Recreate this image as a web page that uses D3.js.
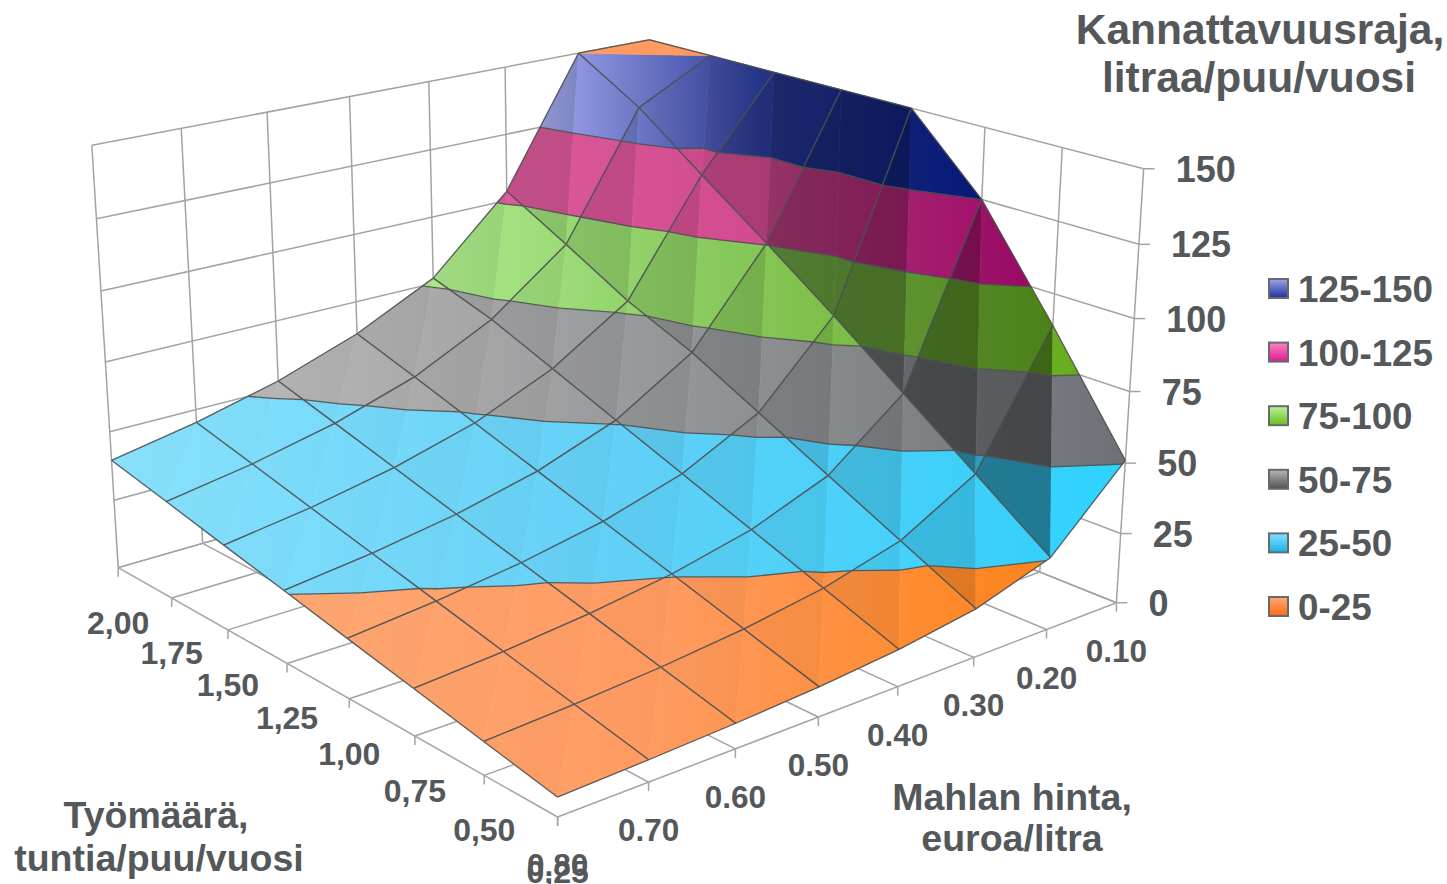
<!DOCTYPE html>
<html>
<head>
<meta charset="utf-8">
<script src="https://cdn.jsdelivr.net/npm/d3@7"></script>
<style>
  html, body { margin: 0; background: #fff; }
  svg { display: block; }
  text { font-family: "Liberation Sans", Arial, sans-serif; font-weight: bold; fill: #54585a; }
</style>
</head>
<body>
<div id="chart"></div>
<script>
const priceLabels = ["0.80", "0.70", "0.60", "0.50", "0.40", "0.30", "0.20", "0.10"];
const workLabels = ["0,25", "0,50", "0,75", "1,00", "1,25", "1,50", "1,75", "2,00"];
const zTicks = [0, 25, 50, 75, 100, 125, 150];

// break-even litres, one list per work amount, price running 0.80 -> 0.10
const work025 = [6.4, 7.3, 8.5, 10.2, 12.8, 17, 25.5, 51];
const work050 = [11.1, 12.7, 14.8, 17.8, 22.3, 29.7, 44.5, 89];
const work075 = [15.9, 18.1, 21.2, 25.4, 31.8, 42.3, 63.5, 125];
const work100 = [20.6, 23.6, 27.5, 33, 41.3, 55, 82.5, 150];
const work125 = [25.4, 29, 33.8, 40.6, 50.8, 67.7, 100.5, 150];
const work150 = [30.1, 34.4, 40.2, 48.2, 60.3, 78, 118, 150];
const work175 = [34.9, 39.9, 46.5, 55.8, 69.8, 91, 136, 150];
const work200 = [39.6, 45.3, 52.8, 63, 77, 103.5, 150, 150];
const surface = [work025, work050, work075, work100, work125, work150, work175, work200];

const bandLabels = ["0-25", "25-50", "50-75", "75-100", "100-125", "125-150"];
const bandLimits = [0, 25, 50, 75, 100, 125, 150];
const bandLeft = ["#ffa873", "#8ae2fd", "#b8b8b8", "#ace98c", "#dc5c9a", "#a4aaee"];
const bandMid = ["#ff9a60", "#62d0f6", "#949597", "#86c858", "#d44a92", "#2a3a96"];
const bandRight = ["#ff8418", "#2ed2ff", "#6e7276", "#66ad1c", "#d00c88", "#08209a"];
const swatchTop = ["#ffa878", "#80e2ff", "#b6b6b6", "#baf29c", "#ff82c8", "#9ea5e8"];
const swatchBottom = ["#ff6a10", "#1eaee6", "#505254", "#6cbc1e", "#de1a8c", "#20309c"];

// facet darkening per price strip, the steep last strip per work row
const leftShade = [0.99, 0.99, 0.98, 0.97, 0.94, 0.88];
const rightShade = [1, 1, 1, 1, 1, 0.99];
const lastLeftShade = [0.58, 0.56, 0.58, 0.62, 0.8, 0.95, 1];
const lastRightShade = [1, 0.74, 0.78, 0.62, 0.7, 0.9, 1];

const width = 1447;
const height = 884;

let svg = d3
  .select("#chart")
  .append("svg")
  .attr("width", width)
  .attr("height", height);
let defs = svg.append("defs");

let xA = d3.scalePoint().domain(d3.range(8)).range([0, 1]);
let xB = d3.scalePoint().domain(d3.range(8)).range([0, 1]);
let xZ = d3.scaleLinear().domain([0, 150]).range([0, 1]);

// box corners and ticks as they sit on the page, used to fit the camera
const cameraAnchors = [
  [0, 0, 0, 557, 817], [1, 0, 0, 1116, 603], [0, 1, 0, 118, 568],
  [1, 0, 1, 1143.6, 169], [0, 1, 1, 92, 145], [1, 1, 1, 648, 40],
  [3 / 7, 0, 0, 818, 717], [0, 3 / 7, 0, 350, 699], [6 / 7, 0, 0, 1046, 629], [0, 6 / 7, 0, 172, 598],
  [1, 0, 0.5, 1130, 392], [0, 1, 0.5, 105, 362], [1, 0, 1 / 6, 1122, 533], [0, 1, 1 / 6, 114, 500],
  [6 / 7, 1, 1, 580, 53], [1, 3 / 7, 1, 911, 108]
];

function fitCamera(anchors) {
  let rows = [];
  for (let [a, b, c, u, v] of anchors) {
    rows.push([a, b, c, 1, 0, 0, 0, 0, -u * a, -u * b, -u * c, u]);
    rows.push([0, 0, 0, 0, a, b, c, 1, -v * a, -v * b, -v * c, v]);
  }
  let n = 11;
  let m = d3.range(n).map(r =>
    d3.range(n + 1).map(s => d3.sum(rows, row => row[r] * row[s]))
  );
  for (let k = 0; k < n; k++) {
    let best = d3.greatestIndex(m.slice(k), row => Math.abs(row[k])) + k;
    [m[k], m[best]] = [m[best], m[k]];
    for (let r = 0; r < n; r++) {
      if (r == k) continue;
      let f = m[r][k] / m[k][k];
      for (let s = k; s <= n; s++) m[r][s] -= f * m[k][s];
    }
  }
  return d3.range(n).map(k => m[k][n] / m[k][k]);
}

const cam = fitCamera(cameraAnchors);

function project(a, b, c) {
  let w = cam[8] * a + cam[9] * b + cam[10] * c + 1;
  return [
    (cam[0] * a + cam[1] * b + cam[2] * c + cam[3]) / w,
    (cam[4] * a + cam[5] * b + cam[6] * c + cam[7]) / w
  ];
}

let vertex = (i, j) => ({ a: xA(i), b: xB(j), z: surface[j][i] });
let toScreen = p => project(p.a, p.b, xZ(p.z));

// walls and floor
let gridLine = d3.line();
let grid = svg.append("g").attr("fill", "none").attr("stroke", "#a3a3a3").attr("stroke-width", 1.5);
let segments = [];
zTicks.forEach(z => {
  segments.push([[0, 1, xZ(z)], [1, 1, xZ(z)]]);
  segments.push([[1, 1, xZ(z)], [1, 0, xZ(z)]]);
});
d3.range(8).forEach(k => {
  segments.push([[xA(k), 1, 0], [xA(k), 1, 1]]);
  segments.push([[1, xB(k), 0], [1, xB(k), 1]]);
  segments.push([[xA(k), 0, 0], [xA(k), 1, 0]]);
  segments.push([[0, xB(k), 0], [1, xB(k), 0]]);
});
grid
  .selectAll("path")
  .data(segments)
  .join("path")
  .attr("d", d => gridLine(d.map(p => project(...p))));

// tick marks
let tickMarks = [];
d3.range(8).forEach(k => {
  let p = project(xA(k), 0, 0);
  tickMarks.push([p, [p[0], p[1] + 9]]);
  let q = project(0, xB(k), 0);
  tickMarks.push([q, [q[0], q[1] + 9]]);
});
zTicks.forEach(z => {
  let p = project(1, 0, xZ(z));
  tickMarks.push([p, [p[0] + 11, p[1]]]);
});
grid
  .append("g")
  .selectAll("path")
  .data(tickMarks)
  .join("path")
  .attr("d", d => gridLine(d));

// clip a triangle (or any polygon) to lo <= z <= hi
function clipBand(poly, lo, hi) {
  let cut = (pts, inside, level) => {
    let out = [];
    pts.forEach((p, k) => {
      let q = pts[(k + 1) % pts.length];
      if (inside(p)) out.push(p);
      if (inside(p) != inside(q)) {
        let t = (level - p.z) / (q.z - p.z);
        out.push({ a: p.a + t * (q.a - p.a), b: p.b + t * (q.b - p.b), z: level });
      }
    });
    return out;
  };
  let res = cut(poly, p => p.z >= lo, lo);
  if (res.length) res = cut(res, p => p.z <= hi, hi);
  return res;
}

function levelSegment(tri, level) {
  let pts = [];
  tri.forEach((p, k) => {
    let q = tri[(k + 1) % 3];
    if ((p.z < level) != (q.z < level)) {
      let t = (level - p.z) / (q.z - p.z);
      pts.push({ a: p.a + t * (q.a - p.a), b: p.b + t * (q.b - p.b), z: level });
    }
  });
  return pts.length == 2 ? pts : null;
}

// cells, far corner first
let cells = [];
d3.range(7).forEach(i => d3.range(7).forEach(j => cells.push({ i, j })));
cells.sort((p, q) => q.i + q.j - (p.i + p.j));

let facets = c => {
  let p00 = vertex(c.i, c.j);
  let p10 = vertex(c.i + 1, c.j);
  let p01 = vertex(c.i, c.j + 1);
  let p11 = vertex(c.i + 1, c.j + 1);
  // three clipped corners: the flat cap is split off on the other diagonal
  if (p10.z >= 150 && p01.z >= 150 && p11.z >= 150) return [[p00, p10, p01], [p10, p11, p01]];
  return [[p00, p11, p01], [p00, p10, p11]];
};

let shadeOf = (c, side) => {
  if (c.i < 6) return side == 0 ? leftShade[c.i] : rightShade[c.i];
  return side == 0 ? lastLeftShade[c.j] : lastRightShade[c.j];
};

// polygons per band, so each band gets its gradient run over its own width
let polygons = [];
cells.forEach((c, order) => {
  c.tris = facets(c);
  c.tris.forEach((tri, side) => {
    let m = shadeOf(c, side);
    if (tri.every(p => p.z >= 150)) {
      polygons.push({ order, band: 0, m, pts: tri.map(toScreen), cap: true });
      return;
    }
    bandLabels.forEach((label, band) => {
      let pts = clipBand(tri, bandLimits[band], bandLimits[band + 1]);
      if (pts.length > 2) polygons.push({ order, band, m, pts: pts.map(toScreen) });
    });
  });
});

let bandExtent = bandLabels.map((label, band) =>
  d3.extent(polygons.filter(d => d.band == band && !d.cap).flatMap(d => d.pts.map(p => p[0])))
);

let scaled = (colour, m) => {
  let c = d3.rgb(colour);
  return d3.rgb(c.r * m, c.g * m, c.b * m).formatHex();
};

polygons.forEach((d, k) => {
  d.id = "facet" + k;
  let [x0, x1] = bandExtent[d.band];
  let grad = defs
    .append("linearGradient")
    .attr("id", d.id)
    .attr("gradientUnits", "userSpaceOnUse")
    .attr("x1", x0)
    .attr("x2", x1)
    .attr("y1", 0)
    .attr("y2", 0);
  grad.append("stop").attr("offset", 0).attr("stop-color", scaled(bandLeft[d.band], d.m));
  grad.append("stop").attr("offset", 0.5).attr("stop-color", scaled(bandMid[d.band], d.m));
  grad.append("stop").attr("offset", 1).attr("stop-color", scaled(bandRight[d.band], d.m));
});

let surfaceCells = svg
  .append("g")
  .selectAll("g")
  .data(cells)
  .join("g");

surfaceCells
  .selectAll("polygon")
  .data((c, order) => polygons.filter(d => d.order == order))
  .join("polygon")
  .attr("points", d => d.pts.join(" "))
  .attr("fill", d => `url(#${d.id})`)
  .attr("stroke", d => `url(#${d.id})`)
  .attr("stroke-width", 0.6);

// band boundaries and mesh on top of each cell
surfaceCells
  .selectAll("path")
  .data(c => {
    let lines = [];
    c.tris.forEach(tri => {
      bandLimits.slice(1, -1).forEach(level => {
        let seg = levelSegment(tri, level);
        if (seg) lines.push(seg);
      });
    });
    let p00 = vertex(c.i, c.j);
    let p10 = vertex(c.i + 1, c.j);
    let p01 = vertex(c.i, c.j + 1);
    let p11 = vertex(c.i + 1, c.j + 1);
    lines.push([p00, p10], [p10, p11], [p11, p01], [p01, p00]);
    return lines;
  })
  .join("path")
  .attr("d", d => gridLine(d.map(toScreen)))
  .attr("fill", "none")
  .attr("stroke", "#4c5052")
  .attr("stroke-width", 1.3)
  .attr("stroke-opacity", 0.9);

// tick labels
svg
  .append("g")
  .selectAll("text")
  .data(priceLabels)
  .join("text")
  .attr("x", (d, k) => project(xA(k), 0, 0)[0])
  .attr("y", (d, k) => project(xA(k), 0, 0)[1] + 59)
  .attr("text-anchor", "middle")
  .attr("font-size", 31.5)
  .text(d => d);

svg
  .append("g")
  .selectAll("text")
  .data(workLabels)
  .join("text")
  .attr("x", (d, k) => project(0, xB(k), 0)[0])
  .attr("y", (d, k) => project(0, xB(k), 0)[1] + 66)
  .attr("text-anchor", "middle")
  .attr("font-size", 32)
  .text(d => d);

svg
  .append("g")
  .selectAll("text")
  .data(zTicks)
  .join("text")
  .attr("x", d => project(1, 0, xZ(d))[0] + 32)
  .attr("y", d => project(1, 0, xZ(d))[1] + 13)
  .attr("font-size", 36)
  .text(d => d);

// axis titles
let titles = [
  { x: 1260, y: 44, size: 42.5, text: "Kannattavuusraja," },
  { x: 1259, y: 92, size: 42.5, text: "litraa/puu/vuosi" },
  { x: 156, y: 828, size: 37.5, text: "Työmäärä," },
  { x: 159, y: 871, size: 37.5, text: "tuntia/puu/vuosi" },
  { x: 1012, y: 810, size: 37.5, text: "Mahlan hinta," },
  { x: 1012, y: 851, size: 37.5, text: "euroa/litra" }
];
svg
  .append("g")
  .selectAll("text")
  .data(titles)
  .join("text")
  .attr("x", d => d.x)
  .attr("y", d => d.y)
  .attr("font-size", d => d.size)
  .attr("text-anchor", "middle")
  .text(d => d.text);

// legend, top band first
let legendY = d3.scalePoint().domain(d3.range(6).reverse()).range([279, 597]);
bandLabels.forEach((label, band) => {
  let grad = defs
    .append("linearGradient")
    .attr("id", "swatch" + band)
    .attr("x1", 0)
    .attr("x2", 0)
    .attr("y1", 0)
    .attr("y2", 1);
  grad.append("stop").attr("offset", 0).attr("stop-color", swatchTop[band]);
  grad.append("stop").attr("offset", 1).attr("stop-color", swatchBottom[band]);
});
let legend = svg
  .append("g")
  .selectAll("g")
  .data(bandLabels)
  .join("g")
  .attr("transform", (d, k) => `translate(1269,${legendY(k)})`);
legend
  .append("rect")
  .attr("width", 19)
  .attr("height", 19)
  .attr("fill", (d, k) => `url(#swatch${k})`)
  .attr("stroke", "#676a6c")
  .attr("stroke-width", 2);
legend
  .append("text")
  .attr("x", 29)
  .attr("y", 23)
  .attr("font-size", 36.8)
  .text(d => d);
</script>
</body>
</html>
